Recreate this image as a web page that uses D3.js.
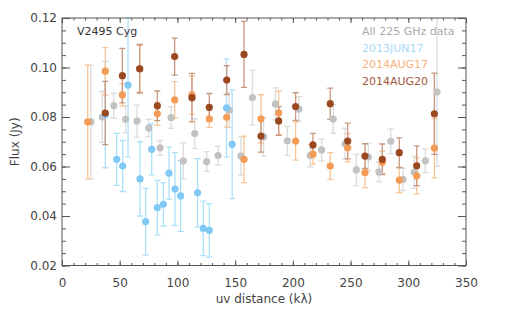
<!DOCTYPE html>
<html>
<head>
<meta charset="utf-8">
<script src="https://cdn.jsdelivr.net/npm/d3@7/dist/d3.min.js"></script>
<style>
  body { margin: 0; background: #fff; }
  svg text { font-family: "DejaVu Sans", sans-serif; }
</style>
</head>
<body>
<div id="chart"></div>
<script>
// All 225 GHz data (gray)
var grayUv   = [25, 34.9, 44.9, 55.1, 65, 75.2, 85, 94.5, 105.1, 115, 125.3, 135.2, 144.9, 155, 165, 174.7, 184.9, 195.2, 205.2, 215.1, 224.9, 235, 245.2, 255, 265.4, 274.6, 284.8, 295.4, 305.2, 314.8, 324.9];
var grayFlux = [0.078, 0.080, 0.0846, 0.0791, 0.0783, 0.0756, 0.0675, 0.0798, 0.0623, 0.0733, 0.0620, 0.0644, 0.0827, 0.0642, 0.0878, 0.0720, 0.0853, 0.0704, 0.0832, 0.0644, 0.0667, 0.0792, 0.0692, 0.0586, 0.0638, 0.0578, 0.0702, 0.0548, 0.0577, 0.0623, 0.0901];
var grayErr  = [0.023, 0.0103, 0.005, 0.0055, 0.0065, 0.0035, 0.003, 0.0044, 0.0073, 0.006, 0.004, 0.0038, 0.007, 0.0077, 0.011, 0.0078, 0.0065, 0.0059, 0.005, 0.0045, 0.0044, 0.0058, 0.0062, 0.0063, 0.0055, 0.004, 0.005, 0.0045, 0.0065, 0.0048, 0.030];

// 2013JUN17 (blue)
var junUv   = [37.5, 47.4, 52.6, 57.2, 67.6, 72.5, 77.7, 82.6, 87.8, 92.7, 97.9, 102.8, 117.5, 122.4, 127.6, 142.5, 147.4];
var junFlux = [0.081, 0.0629, 0.0602, 0.0929, 0.0550, 0.0377, 0.0669, 0.0434, 0.0447, 0.0573, 0.0509, 0.0481, 0.0494, 0.0350, 0.0342, 0.0837, 0.0690];
var junErr  = [0.0215, 0.0105, 0.0103, 0.029, 0.015, 0.0135, 0.0103, 0.011, 0.0088, 0.0105, 0.0147, 0.0143, 0.0138, 0.011, 0.0108, 0.0198, 0.022];

// 2014AUG17 (orange)
var aug17Uv   = [22.3, 37.5, 52.3, 67.3, 82.6, 97.6, 112.6, 127.6, 142.7, 157.7, 172.4, 187.7, 202.4, 217.4, 232.4, 247.5, 262.5, 277.5, 292.2, 307.3, 322.6];
var aug17Flux = [0.078, 0.0985, 0.0889, 0.0995, 0.0813, 0.0869, 0.0889, 0.0793, 0.0799, 0.0629, 0.0793, 0.0817, 0.0703, 0.0650, 0.0602, 0.0676, 0.0575, 0.0617, 0.0545, 0.0562, 0.0674];
var aug17Err  = [0.023, 0.0095, 0.0045, 0.0095, 0.0047, 0.0074, 0.0078, 0.0035, 0.004, 0.0094, 0.0097, 0.0088, 0.0077, 0.004, 0.0054, 0.0057, 0.006, 0.0045, 0.005, 0.0073, 0.012];

// 2014AUG20 (brown)
var aug20Uv   = [37.5, 52.3, 67.3, 82.6, 97.6, 112.6, 127.6, 142.7, 157.7, 172.4, 187.7, 202.4, 217.4, 232.4, 247.5, 262.5, 277.5, 292.2, 307.3, 322.6];
var aug20Flux = [0.0816, 0.0967, 0.0995, 0.0845, 0.1044, 0.0878, 0.0839, 0.0949, 0.1053, 0.0723, 0.0784, 0.0842, 0.0687, 0.0854, 0.0703, 0.0642, 0.0629, 0.0656, 0.0603, 0.0813];
var aug20Err  = [0.0128, 0.011, 0.0098, 0.006, 0.0075, 0.0098, 0.0056, 0.0058, 0.0133, 0.0065, 0.0058, 0.0056, 0.0047, 0.0063, 0.0072, 0.005, 0.0062, 0.006, 0.008, 0.0164];

var xMajor = [0, 50, 100, 150, 200, 250, 300, 350];
var yMajor = [0.02, 0.04, 0.06, 0.08, 0.10, 0.12];

var series = [
  {name: "All 225 GHz data", uv: grayUv, flux: grayFlux, err: grayErr, dot: "#c2c2c2", bar: "#dcdcdc", text: "#ababab"},
  {name: "2013JUN17", uv: junUv, flux: junFlux, err: junErr, dot: "#7fc9f4", bar: "#ace0fa", text: "#a9daf7"},
  {name: "2014AUG17", uv: aug17Uv, flux: aug17Flux, err: aug17Err, dot: "#f49c55", bar: "#f8c596", text: "#f7b07a"},
  {name: "2014AUG20", uv: aug20Uv, flux: aug20Flux, err: aug20Err, dot: "#9a4820", bar: "#c99780", text: "#a0583a"}
];

var width = 518, height = 335;
var pLeft = 62, pRight = 466, pTop = 18, pBottom = 265.5;

var svg = d3.select("#chart").append("svg")
    .attr("width", width)
    .attr("height", height);

var x = d3.scaleLinear().domain([0, 350]).range([pLeft, pRight]);
var y = d3.scaleLinear().domain([0.02, 0.12]).range([pBottom, pTop]);

var axisColor = "#555";

// plot area clip
svg.append("clipPath").attr("id", "clip")
  .append("rect").attr("x", pLeft).attr("y", pTop)
  .attr("width", pRight - pLeft).attr("height", pBottom - pTop);

var plot = svg.append("g").attr("clip-path", "url(#clip)");

// error bars first
series.forEach(function(s) {
  var g = plot.append("g");
  s.uv.forEach(function(u, i) {
    var cx = x(u), y1 = y(s.flux[i] + s.err[i]), y2 = y(s.flux[i] - s.err[i]);
    g.append("line").attr("x1", cx).attr("x2", cx).attr("y1", y1).attr("y2", y2)
      .attr("stroke", s.bar).attr("stroke-width", 1.3);
    [y1, y2].forEach(function(yy) {
      g.append("line").attr("x1", cx - 3).attr("x2", cx + 3).attr("y1", yy).attr("y2", yy)
        .attr("stroke", s.bar).attr("stroke-width", 1.3);
    });
  });
});

// dots
series.forEach(function(s) {
  plot.append("g").selectAll("circle")
    .data(s.uv)
    .enter().append("circle")
    .attr("cx", function(d) { return x(d); })
    .attr("cy", function(d, i) { return y(s.flux[i]); })
    .attr("r", 3.6)
    .attr("fill", s.dot);
});

// axes: ticks inward on all four sides
function minorTicks(a, b, step) {
  var t = [];
  for (var v = a; v <= b + 1e-9; v += step) t.push(+v.toFixed(4));
  return t;
}
var xMinor = minorTicks(0, 350, 10);
var yMinor = minorTicks(0.02, 0.12, 0.005);

function styleAxis(g) {
  g.select(".domain").remove();
  g.selectAll("line").attr("stroke", axisColor);
  g.selectAll("text").attr("fill", "#444").style("font-size", "12px");
}

svg.append("g").attr("transform", "translate(0," + pBottom + ")")
  .call(d3.axisBottom(x).tickValues(xMinor).tickSize(-2.5).tickFormat(""))
  .call(styleAxis);
svg.append("g").attr("transform", "translate(0," + pBottom + ")")
  .call(d3.axisBottom(x).tickValues(xMajor).tickSize(-5).tickPadding(13).tickFormat(d3.format("d")))
  .call(styleAxis);
svg.append("g").attr("transform", "translate(0," + pTop + ")")
  .call(d3.axisTop(x).tickValues(xMinor).tickSize(-2.5).tickFormat(""))
  .call(styleAxis);
svg.append("g").attr("transform", "translate(0," + pTop + ")")
  .call(d3.axisTop(x).tickValues(xMajor).tickSize(-5).tickFormat(""))
  .call(styleAxis);

svg.append("g").attr("transform", "translate(" + pLeft + ",0)")
  .call(d3.axisLeft(y).tickValues(yMinor).tickSize(-4).tickFormat(""))
  .call(styleAxis);
svg.append("g").attr("transform", "translate(" + pLeft + ",0)")
  .call(d3.axisLeft(y).tickValues(yMajor).tickSize(-8).tickPadding(5).tickFormat(d3.format(".2f")))
  .call(styleAxis);
svg.append("g").attr("transform", "translate(" + pRight + ",0)")
  .call(d3.axisRight(y).tickValues(yMinor).tickSize(-4).tickFormat(""))
  .call(styleAxis);
svg.append("g").attr("transform", "translate(" + pRight + ",0)")
  .call(d3.axisRight(y).tickValues(yMajor).tickSize(-8).tickFormat(""))
  .call(styleAxis);

svg.append("rect")
  .attr("x", pLeft).attr("y", pTop)
  .attr("width", pRight - pLeft).attr("height", pBottom - pTop)
  .attr("fill", "none").attr("stroke", axisColor).attr("stroke-width", 1);

// titles
svg.append("text")
  .attr("x", (pLeft + pRight) / 2).attr("y", 303)
  .attr("text-anchor", "middle")
  .attr("fill", "#444").style("font-size", "12px")
  .text("uv distance (kλ)");

svg.append("text")
  .attr("transform", "translate(19," + ((pTop + pBottom) / 2) + ") rotate(-90)")
  .attr("text-anchor", "middle")
  .attr("fill", "#444").style("font-size", "12px")
  .text("Flux (Jy)");

svg.append("text")
  .attr("x", 77).attr("y", 35)
  .attr("fill", "#333").style("font-size", "11px")
  .text("V2495 Cyg");

// legend
series.forEach(function(s, i) {
  svg.append("text")
    .attr("x", 362).attr("y", 35 + i * 16.5)
    .attr("fill", s.text).style("font-size", "11px")
    .text(s.name);
});
</script>
</body>
</html>
